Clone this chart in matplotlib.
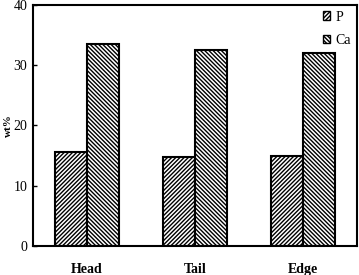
import matplotlib
matplotlib.use("Agg")
import matplotlib.pyplot as plt
import numpy as np

categories = ["Head", "Tail", "Edge"]
series_names = ["P", "Ca"]
p_values = [15.6, 14.8, 15.0]
ca_values = [33.6, 32.6, 32.0]
y_ticks = [0, 10, 20, 30, 40]

plt.rcParams['font.family'] = ['Liberation Serif', 'DejaVu Serif']
plt.rcParams['hatch.linewidth'] = 1.0

fig = plt.figure(figsize=(3.59, 2.75), dpi=100)
ax = fig.add_axes([0.092, 0.1055, 0.902, 0.8765])

x = np.arange(len(categories))
w = 0.295
ax.bar(x - w/2, p_values, w, facecolor='white', edgecolor='black', hatch='////////', linewidth=1.5, label=series_names[0])
ax.bar(x + w/2, ca_values, w, facecolor='white', edgecolor='black', hatch='\\\\\\\\\\\\\\\\', linewidth=1.5, label=series_names[1])

ax.set_xlim(-0.5, 2.5)
ax.set_ylim(0, 40)
ax.set_yticks(y_ticks)
ax.set_xticks(x)
ax.set_xticklabels(categories, fontweight='bold', fontsize=10)
ax.tick_params(axis='x', length=0, pad=12)
ax.tick_params(axis='y', direction='in', length=3, width=1, labelsize=10, pad=4)
for s in ax.spines.values():
    s.set_linewidth(1.5)
ax.set_ylabel("wt%", fontweight='bold', fontsize=8)
ax.yaxis.set_label_coords(-0.062, 0.5)

leg = ax.legend(loc='upper right', frameon=False, fontsize=10, handlelength=0.55, handleheight=0.55,
                handletextpad=0.4, labelspacing=0.75, borderaxespad=0.0)
for h in leg.legend_handles:
    h.set_linewidth(1.0)

fig.savefig("out.png", dpi=100)
